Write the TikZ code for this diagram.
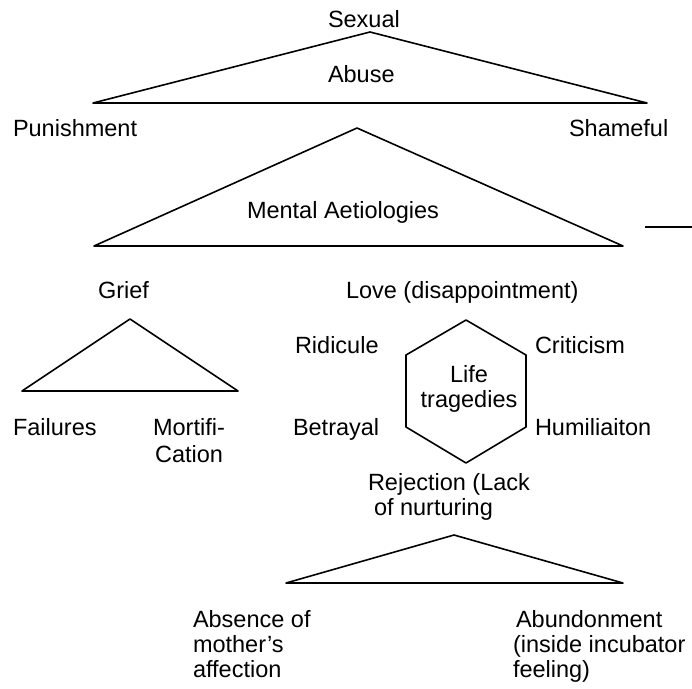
\documentclass[tikz,border=0pt]{standalone}
\usepackage{fontspec}
\setmainfont{Liberation Sans}
\newcommand{\mlines}[2][l]{\begin{tabular}[t]{@{}#1@{}}#2\end{tabular}}
\tikzset{
  lbl/.style={inner sep=0pt, outer sep=0pt, anchor=base west, font=\fontsize{23.5}{25}\selectfont},
  lblc/.style={lbl, anchor=base},
  shapeline/.style={line width=1.6pt, line join=round}
}
\begin{document}
\begin{tikzpicture}[x=1pt,y=-1pt]
\useasboundingbox (0,0) rectangle (692,688);
% ---- top triangle
\coordinate (t1a) at (370,32);
\coordinate (t1l) at (93,103);
\coordinate (t1r) at (647,103);
\draw[shapeline] (t1a) -- (t1l) -- (t1r) -- cycle;
\node[lbl] (sexual) at (328,27) {Sexual};
\node[lbl] (abuse) at (328,82) {Abuse};
\node[lbl] (punish) at (13,136) {Punishment};
\node[lbl] (shame) at (569,136) {Shameful};
% ---- second triangle
\coordinate (t2a) at (357,128);
\coordinate (t2l) at (94,246);
\coordinate (t2r) at (623,246);
\draw[shapeline] (t2a) -- (t2l) -- (t2r) -- cycle;
\node[lbl] (mental) at (247,218) {Mental Aetiologies};
\coordinate (s1) at (645,227);
\coordinate (s2) at (692,227);
\draw[shapeline] (s1) -- (s2);
% ---- grief triangle
\node[lbl] (grief) at (98,298) {Grief};
\coordinate (t3a) at (130,319);
\coordinate (t3l) at (22,391);
\coordinate (t3r) at (238,391);
\draw[shapeline] (t3a) -- (t3l) -- (t3r) -- cycle;
\node[lbl] (failures) at (13,435) {Failures};
\node[lblc] (mortif) at (189,435) {\mlines[c]{Mortifi-\\[2pt]Cation}};
% ---- hexagon
\node[lbl] (love) at (346,298) {Love (disappointment)};
\coordinate (h1) at (466,320);
\coordinate (h2) at (406,355);
\coordinate (h3) at (406,427);
\coordinate (h4) at (466,463);
\coordinate (h5) at (526,427);
\coordinate (h6) at (526,355);
\draw[shapeline] (h1) -- (h2) -- (h3) -- (h4) -- (h5) -- (h6) -- cycle;
\node[lblc] (life) at (469,382) {\mlines[c]{Life\\tragedies}};
\node[lbl] (ridicule) at (295,353) {Ridicule};
\node[lbl] (criticism) at (535,353) {Criticism};
\node[lbl] (betrayal) at (293,435) {Betrayal};
\node[lbl] (humil) at (535,435) {Humiliaiton};
% ---- rejection triangle
\node[lbl] (reject) at (368,490) {\mlines{Rejection (Lack\\\hspace*{6pt}of nurturing}};
\coordinate (t4a) at (454,535);
\coordinate (t4l) at (286,583);
\coordinate (t4r) at (623,583);
\draw[shapeline] (t4a) -- (t4l) -- (t4r) -- cycle;
\node[lbl] (absence) at (193,627) {\mlines{Absence of\\mother's\\affection}};
\node[lbl] (abund) at (513,627) {\mlines{\hspace*{3pt}Abundonment\\(inside incubator\\feeling)}};
\end{tikzpicture}
\end{document}
